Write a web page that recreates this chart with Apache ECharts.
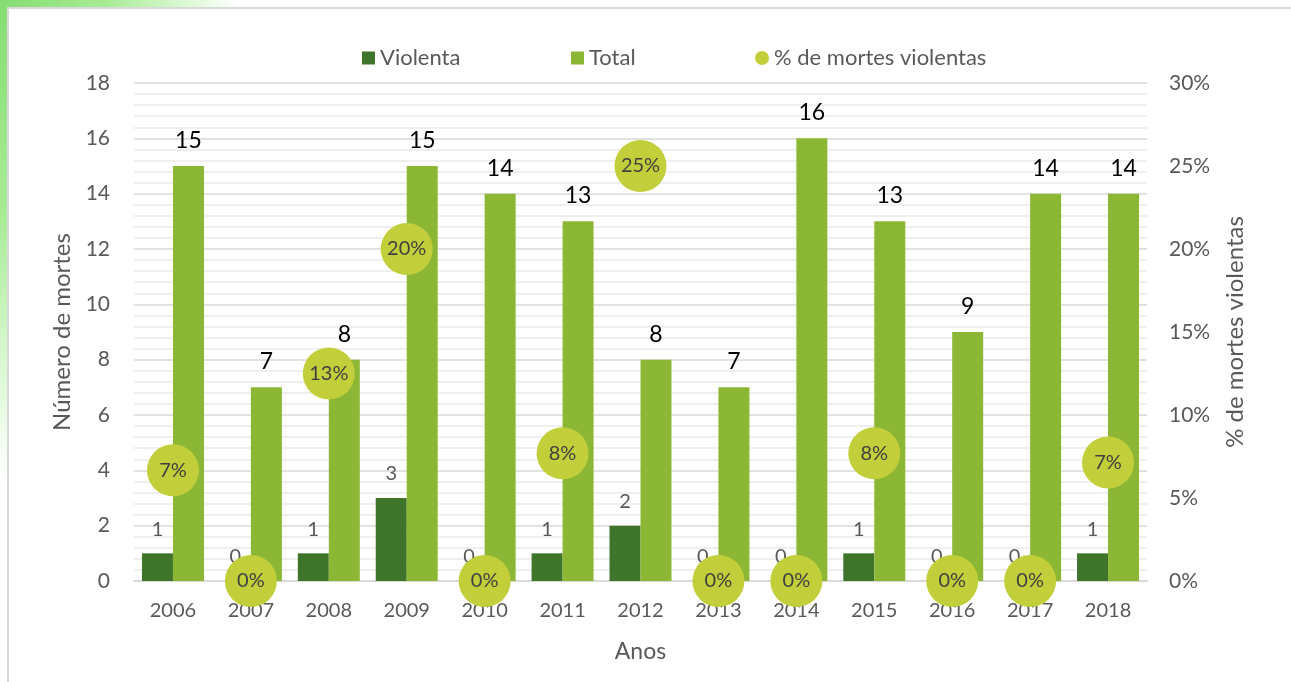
<!DOCTYPE html>
<html>
<head>
<meta charset="utf-8">
<script src="https://cdn.jsdelivr.net/npm/echarts@6/dist/echarts.min.js"></script>
<style>
  html, body { margin:0; padding:0; width:1291px; height:682px; overflow:hidden; }
  body { background: radial-gradient(ellipse 240px 480px at 0 0, #86dc72 0%, #a8ec96 45%, #d8f8d0 75%, #ffffff 100%); position:relative; }
  #frame { position:absolute; left:7px; top:7px; right:0; bottom:0; background:#fff; border-left:2px solid #d9d9d9; border-top:2px solid #d9d9d9; }
  #chart { position:absolute; left:0; top:0; width:1291px; height:682px; }
</style>
</head>
<body>
<div id="frame"></div>
<div id="chart"></div>
<script>
const categories = ['2006','2007','2008','2009','2010','2011','2012','2013','2014','2015','2016','2017','2018'];
const violenta = [1, 0, 1, 3, 0, 1, 2, 0, 0, 1, 0, 0, 1];
const total = [15, 7, 8, 15, 14, 13, 8, 7, 16, 13, 9, 14, 14];
const pctViolentas = [6.67, 0, 12.5, 20, 0, 7.69, 25, 0, 0, 7.69, 0, 0, 7.14];
const leftTicks = { min: 0, max: 18, interval: 2 };
const rightTicks = { min: 0, max: 30, interval: 5 };

const FONT = 'Lato';
const GREY = '#595959';
const chart = echarts.init(document.getElementById('chart'), null, { renderer: 'canvas' });
const legendText = { color: GREY, fontSize: 22, fontFamily: FONT };
chart.setOption({
  backgroundColor: 'transparent',
  textStyle: { fontFamily: FONT },
  legend: [
    { data: [{ name: 'Violenta', icon: 'rect' }], left: 357, top: 42, itemWidth: 13, itemHeight: 13, itemGap: 6, textStyle: legendText },
    { data: [{ name: 'Total', icon: 'rect' }], left: 566, top: 42, itemWidth: 13, itemHeight: 13, textStyle: legendText },
    { data: [{ name: '% de mortes violentas', icon: 'circle' }], left: 750, top: 42, itemWidth: 14, itemHeight: 14, textStyle: legendText }
  ],
  grid: { left: 134, right: 144, top: 83, bottom: 101, containLabel: false },
  xAxis: {
    type: 'category', data: categories,
    axisLine: { lineStyle: { color: '#d9d9d9', width: 2 } },
    axisTick: { show: false },
    axisLabel: { color: GREY, fontSize: 20, fontFamily: FONT, margin: 20 },
    name: 'Anos', nameLocation: 'middle', nameGap: 59,
    nameTextStyle: { color: GREY, fontSize: 23, fontFamily: FONT }
  },
  yAxis: [
    {
      type: 'value', min: leftTicks.min, max: leftTicks.max, interval: leftTicks.interval,
      axisLine: { show: false }, axisTick: { show: false },
      axisLabel: { color: GREY, fontSize: 21, fontFamily: FONT, margin: 24 },
      splitLine: { lineStyle: { color: '#d9d9d9', width: 1.5 } },
      minorTick: { show: false, splitNumber: 5 },
      minorSplitLine: { show: true, lineStyle: { color: '#efefef', width: 2 } },
      name: 'Número de mortes', nameLocation: 'middle', nameGap: 46, nameRotate: 90,
      nameTextStyle: { color: GREY, fontSize: 24, fontFamily: FONT }
    },
    {
      type: 'value', min: rightTicks.min, max: rightTicks.max, interval: rightTicks.interval,
      axisLine: { show: false }, axisTick: { show: false }, splitLine: { show: false },
      axisLabel: { color: GREY, fontSize: 21, fontFamily: FONT, margin: 22, formatter: '{value}%' },
      name: '% de mortes violentas', nameLocation: 'middle', nameGap: 76, nameRotate: 90,
      nameTextStyle: { color: GREY, fontSize: 24, fontFamily: FONT }
    }
  ],
  series: [
    {
      name: 'Violenta', type: 'bar', data: violenta, barWidth: 31, barGap: '0%',
      itemStyle: { color: '#3f752a' },
      label: { show: true, position: 'top', distance: 14, color: GREY, fontSize: 20, fontFamily: FONT }
    },
    {
      name: 'Total', type: 'bar', data: total, barWidth: 31, barGap: '0%',
      itemStyle: { color: '#8bb735' },
      label: { show: true, position: 'top', distance: 14, color: '#000', fontSize: 23, fontFamily: FONT }
    },
    {
      name: '% de mortes violentas', type: 'scatter', yAxisIndex: 1, data: pctViolentas,
      symbol: 'circle', symbolSize: 52, z: 5,
      itemStyle: { color: '#c2cf3b', opacity: 1 },
      label: { show: true, position: 'inside', color: '#404040', fontSize: 20, fontFamily: FONT,
        formatter: p => Math.round(p.value) + '%' }
    }
  ]
});
</script>
</body>
</html>
